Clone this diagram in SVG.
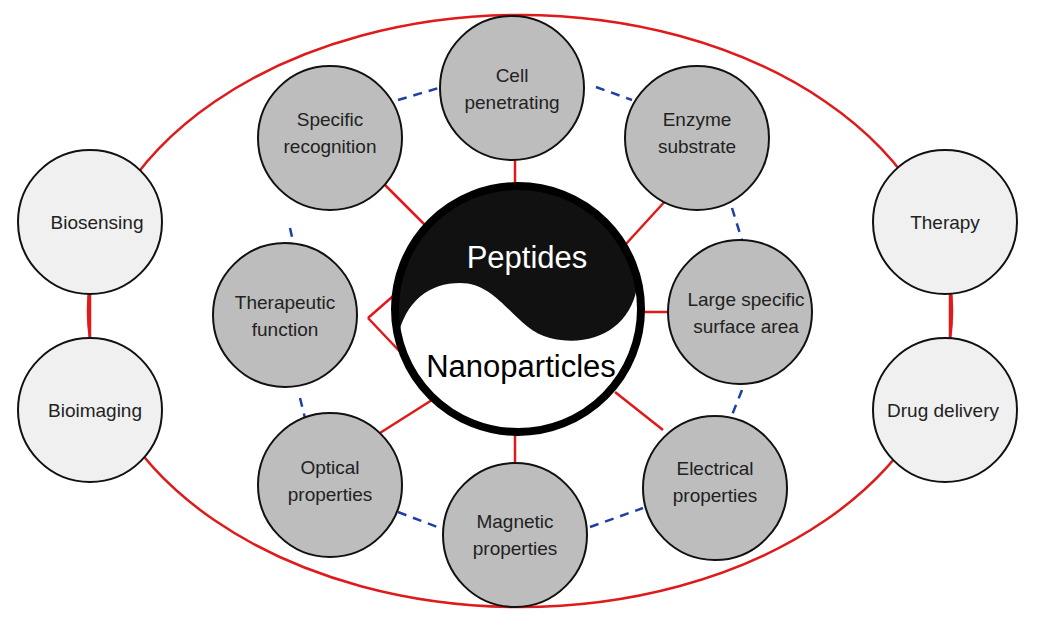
<svg xmlns="http://www.w3.org/2000/svg" width="1040" height="625" viewBox="0 0 1040 625">
<style>
.red{stroke:#e0191b;stroke-width:2.5;fill:none}
.blue{stroke:#1f3fa8;stroke-width:2.5;stroke-dasharray:9 7;fill:none}
.outer{fill:#f0f0f0;stroke:#111;stroke-width:2}
.inner{fill:#bdbdbd;stroke:#111;stroke-width:2}
text{font-family:"Liberation Sans",Arial,sans-serif;font-size:19px;fill:#222;text-anchor:middle}
</style>
<rect width="1040" height="625" fill="#fff"/>
<g id="connectors">
<ellipse class="red" cx="520" cy="311" rx="432" ry="296"/>
<line class="red" x1="90" y1="290" x2="90" y2="340"/>
<line class="red" x1="950" y1="290" x2="950" y2="340"/>
<line class="red" x1="515" y1="160" x2="515" y2="190"/>
<line class="red" x1="385" y1="185" x2="425" y2="225"/>
<line class="red" x1="668" y1="198" x2="625" y2="245"/>
<line class="red" x1="368" y1="318" x2="400" y2="290"/>
<line class="red" x1="368" y1="318" x2="405" y2="357"/>
<line class="red" x1="636" y1="312" x2="670" y2="312"/>
<line class="red" x1="372" y1="438" x2="432" y2="400"/>
<line class="red" x1="515" y1="432" x2="515" y2="470"/>
<line class="red" x1="615" y1="392" x2="663" y2="430"/>
<line class="blue" x1="398" y1="100" x2="442" y2="87"/>
<line class="blue" x1="596" y1="87" x2="632" y2="100"/>
<line class="blue" x1="732" y1="208" x2="742" y2="240"/>
<line class="blue" x1="742" y1="390" x2="732" y2="415"/>
<line class="blue" x1="590" y1="527" x2="643" y2="508"/>
<line class="blue" x1="398" y1="512" x2="445" y2="530"/>
<line class="blue" x1="300" y1="398" x2="305" y2="418"/>
<line class="blue" x1="290" y1="228" x2="296" y2="255"/>
</g>
<g id="biosensing"><circle class="outer" cx="90" cy="222" r="72"/><text x="97" y="229">Biosensing</text></g>
<g id="bioimaging"><circle class="outer" cx="90" cy="410" r="72"/><text x="95" y="417">Bioimaging</text></g>
<g id="therapy"><circle class="outer" cx="945" cy="222" r="72"/><text x="945" y="229">Therapy</text></g>
<g id="drug-delivery"><circle class="outer" cx="945" cy="410" r="72"/><text x="943" y="417">Drug delivery</text></g>
<g id="cell-penetrating"><circle class="inner" cx="512" cy="88" r="72"/><text x="512" y="82">Cell</text><text x="512" y="109">penetrating</text></g>
<g id="specific-recognition"><circle class="inner" cx="330" cy="138" r="72"/><text x="330" y="126">Specific</text><text x="330" y="153">recognition</text></g>
<g id="enzyme-substrate"><circle class="inner" cx="697" cy="138" r="72"/><text x="697" y="126">Enzyme</text><text x="697" y="153">substrate</text></g>
<g id="therapeutic-function"><circle class="inner" cx="285" cy="315" r="72"/><text x="285" y="309">Therapeutic</text><text x="285" y="336">function</text></g>
<g id="large-surface"><circle class="inner" cx="740" cy="312" r="72"/><text x="746" y="306">Large specific</text><text x="746" y="333">surface area</text></g>
<g id="optical"><circle class="inner" cx="330" cy="485" r="72"/><text x="330" y="474">Optical</text><text x="330" y="501">properties</text></g>
<g id="magnetic"><circle class="inner" cx="515" cy="535" r="72"/><text x="515" y="528">Magnetic</text><text x="515" y="555">properties</text></g>
<g id="electrical"><circle class="inner" cx="715" cy="488" r="72"/><text x="715" y="475">Electrical</text><text x="715" y="502">properties</text></g>
<g id="center">
<circle cx="518" cy="309" r="123" fill="#fff"/>
<path d="M637,287 A123,123 0 1 0 397,340 C405,300 430,283 460,283 C500,283 515,330 550,338 C590,348 630,330 637,287 Z" fill="#111"/>
<circle cx="518" cy="309" r="123" fill="none" stroke="#000" stroke-width="8"/>
<text x="527" y="268" style="font-size:31px;fill:#fff">Peptides</text>
<text x="521" y="377" style="font-size:31px;fill:#000">Nanoparticles</text>
</g>
</svg>
